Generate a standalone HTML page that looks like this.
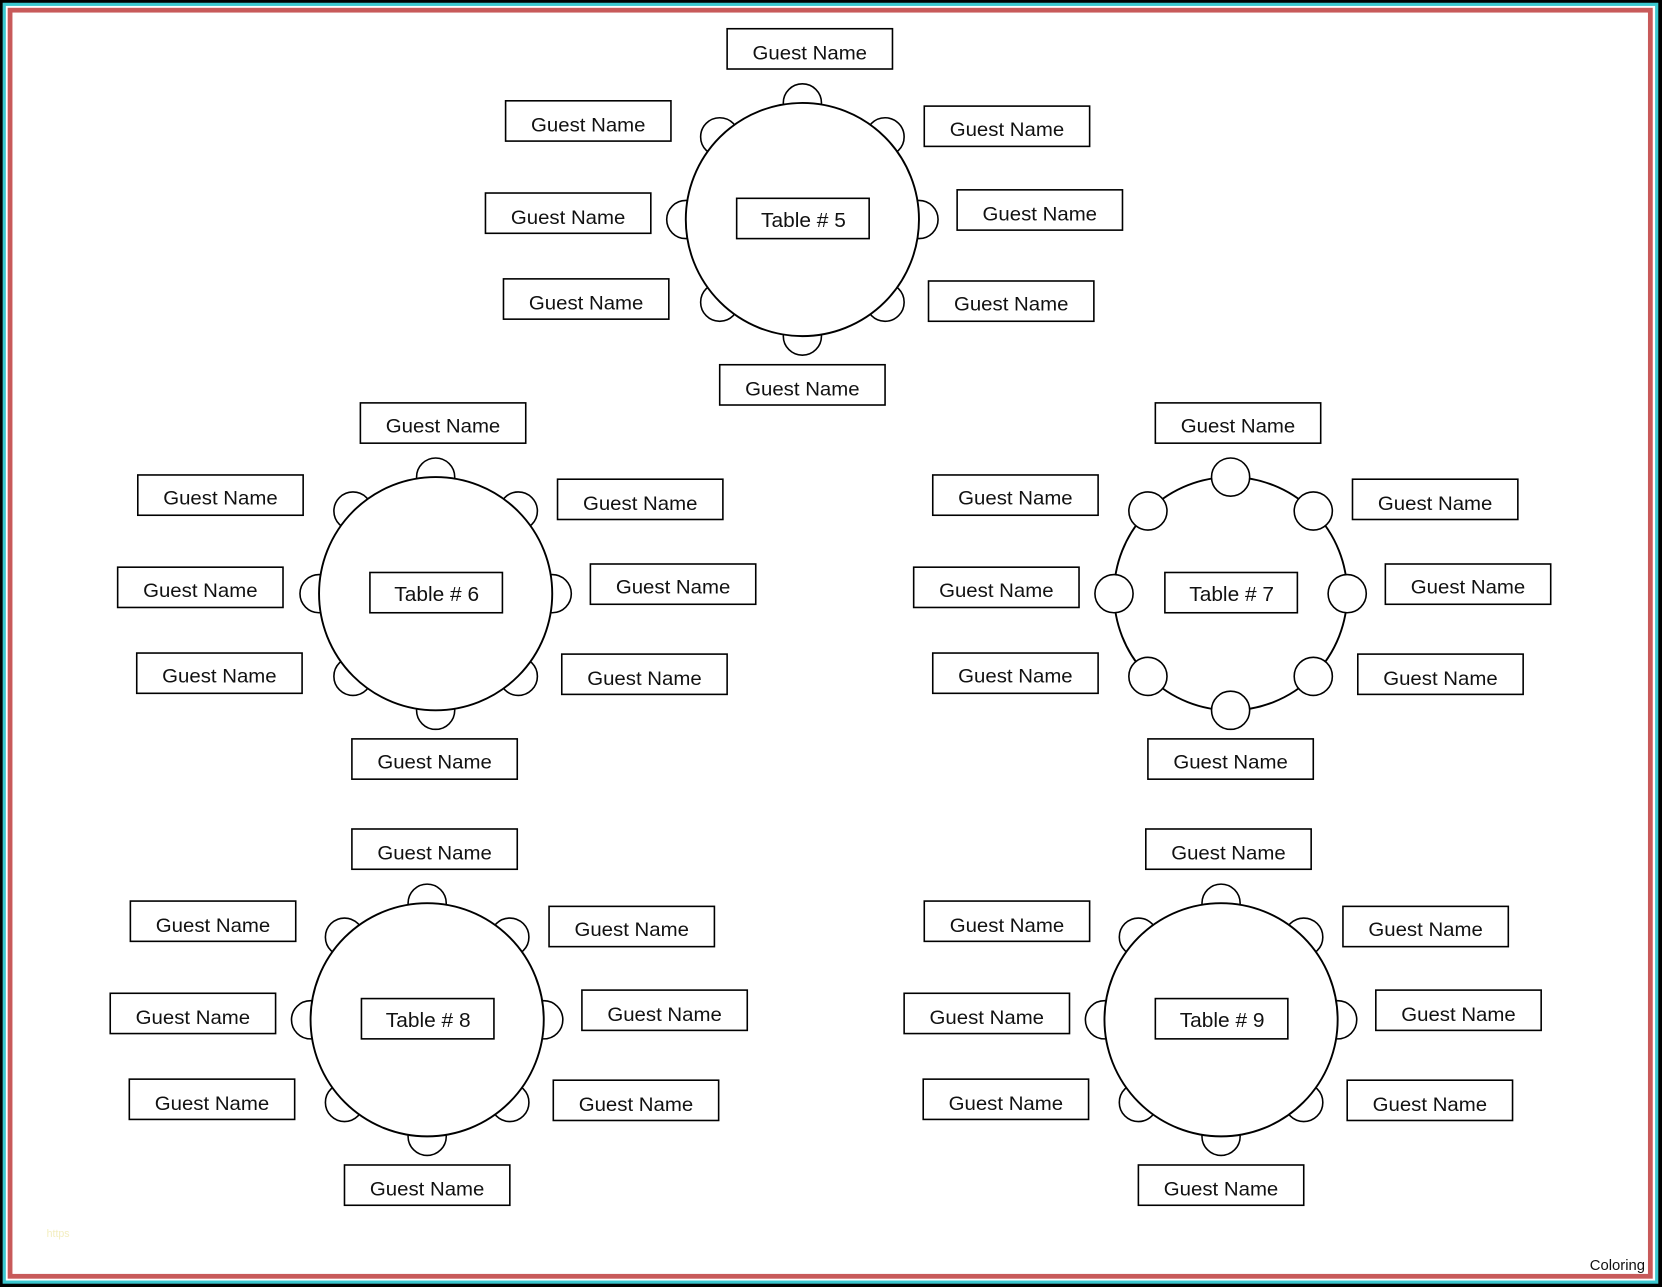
<!DOCTYPE html>
<html><head><meta charset="utf-8"><style>
html,body{margin:0;padding:0;background:#000;}
svg{display:block;}
text{font-family:"Liberation Sans",sans-serif;fill:#111;}
</style></head><body>
<svg width="1662" height="1287" viewBox="0 0 1568 1214" xmlns="http://www.w3.org/2000/svg">
<defs>
<g id="chairs" fill="#fff" stroke="#000" stroke-width="1.5">
<circle cx="0" cy="-110" r="18"/><circle cx="78" cy="-78" r="18"/><circle cx="110" cy="0" r="18"/><circle cx="78" cy="78" r="18"/>
<circle cx="0" cy="110" r="18"/><circle cx="-78" cy="78" r="18"/><circle cx="-110" cy="0" r="18"/><circle cx="-78" cy="-78" r="18"/>
</g>
<g id="tbl"><use href="#chairs"/><circle cx="0" cy="0" r="110" fill="#fff" stroke="#000" stroke-width="1.8"/><rect x="-62" y="-20" width="125" height="38" fill="#fff" stroke="#000" stroke-width="1.5"/></g>
<g id="tbl7"><circle cx="0" cy="0" r="110" fill="#fff" stroke="#000" stroke-width="1.8"/><use href="#chairs"/><rect x="-62" y="-20" width="125" height="38" fill="#fff" stroke="#000" stroke-width="1.5"/></g>
<rect id="b" width="156" height="38" fill="#fff" stroke="#000" stroke-width="1.5"/>
</defs>
<rect x="0" y="0" width="1568" height="1214" fill="#000"/>
<rect x="2.5" y="2.5" width="1562" height="1208.5" fill="#3cc8d0"/>
<rect x="5.5" y="5.5" width="1556" height="1202.5" fill="#fff"/>
<rect x="9.5" y="9.5" width="1547.5" height="1194.5" fill="none" stroke="#c85a5a" stroke-width="4.5"/>

<!-- Table 5 -->
<use href="#tbl" x="757" y="207"/>
<text x="758" y="214" font-size="19" text-anchor="middle" textLength="80" lengthAdjust="spacingAndGlyphs">Table # 5</text>
<use href="#b" x="686" y="27"/><text x="764" y="56" font-size="18" text-anchor="middle" textLength="108" lengthAdjust="spacingAndGlyphs">Guest Name</text>
<use href="#b" x="477" y="95"/><text x="555" y="124" font-size="18" text-anchor="middle" textLength="108" lengthAdjust="spacingAndGlyphs">Guest Name</text>
<use href="#b" x="872" y="100"/><text x="950" y="128" font-size="18" text-anchor="middle" textLength="108" lengthAdjust="spacingAndGlyphs">Guest Name</text>
<use href="#b" x="458" y="182"/><text x="536" y="211" font-size="18" text-anchor="middle" textLength="108" lengthAdjust="spacingAndGlyphs">Guest Name</text>
<use href="#b" x="903" y="179"/><text x="981" y="208" font-size="18" text-anchor="middle" textLength="108" lengthAdjust="spacingAndGlyphs">Guest Name</text>
<use href="#b" x="475" y="263"/><text x="553" y="292" font-size="18" text-anchor="middle" textLength="108" lengthAdjust="spacingAndGlyphs">Guest Name</text>
<use href="#b" x="876" y="265"/><text x="954" y="293" font-size="18" text-anchor="middle" textLength="108" lengthAdjust="spacingAndGlyphs">Guest Name</text>
<use href="#b" x="679" y="344"/><text x="757" y="373" font-size="18" text-anchor="middle" textLength="108" lengthAdjust="spacingAndGlyphs">Guest Name</text>

<!-- Table 6 -->
<use href="#tbl" x="411" y="560"/>
<text x="412" y="567" font-size="19" text-anchor="middle" textLength="80" lengthAdjust="spacingAndGlyphs">Table # 6</text>
<use href="#b" x="340" y="380"/><text x="418" y="408" font-size="18" text-anchor="middle" textLength="108" lengthAdjust="spacingAndGlyphs">Guest Name</text>
<use href="#b" x="130" y="448"/><text x="208" y="476" font-size="18" text-anchor="middle" textLength="108" lengthAdjust="spacingAndGlyphs">Guest Name</text>
<use href="#b" x="526" y="452"/><text x="604" y="481" font-size="18" text-anchor="middle" textLength="108" lengthAdjust="spacingAndGlyphs">Guest Name</text>
<use href="#b" x="111" y="535"/><text x="189" y="563" font-size="18" text-anchor="middle" textLength="108" lengthAdjust="spacingAndGlyphs">Guest Name</text>
<use href="#b" x="557" y="532"/><text x="635" y="560" font-size="18" text-anchor="middle" textLength="108" lengthAdjust="spacingAndGlyphs">Guest Name</text>
<use href="#b" x="129" y="616"/><text x="207" y="644" font-size="18" text-anchor="middle" textLength="108" lengthAdjust="spacingAndGlyphs">Guest Name</text>
<use href="#b" x="530" y="617"/><text x="608" y="646" font-size="18" text-anchor="middle" textLength="108" lengthAdjust="spacingAndGlyphs">Guest Name</text>
<use href="#b" x="332" y="697"/><text x="410" y="725" font-size="18" text-anchor="middle" textLength="108" lengthAdjust="spacingAndGlyphs">Guest Name</text>

<!-- Table 7 -->
<use href="#tbl7" x="1161" y="560"/>
<text x="1162" y="567" font-size="19" text-anchor="middle" textLength="80" lengthAdjust="spacingAndGlyphs">Table # 7</text>
<use href="#b" x="1090" y="380"/><text x="1168" y="408" font-size="18" text-anchor="middle" textLength="108" lengthAdjust="spacingAndGlyphs">Guest Name</text>
<use href="#b" x="880" y="448"/><text x="958" y="476" font-size="18" text-anchor="middle" textLength="108" lengthAdjust="spacingAndGlyphs">Guest Name</text>
<use href="#b" x="1276" y="452"/><text x="1354" y="481" font-size="18" text-anchor="middle" textLength="108" lengthAdjust="spacingAndGlyphs">Guest Name</text>
<use href="#b" x="862" y="535"/><text x="940" y="563" font-size="18" text-anchor="middle" textLength="108" lengthAdjust="spacingAndGlyphs">Guest Name</text>
<use href="#b" x="1307" y="532"/><text x="1385" y="560" font-size="18" text-anchor="middle" textLength="108" lengthAdjust="spacingAndGlyphs">Guest Name</text>
<use href="#b" x="880" y="616"/><text x="958" y="644" font-size="18" text-anchor="middle" textLength="108" lengthAdjust="spacingAndGlyphs">Guest Name</text>
<use href="#b" x="1281" y="617"/><text x="1359" y="646" font-size="18" text-anchor="middle" textLength="108" lengthAdjust="spacingAndGlyphs">Guest Name</text>
<use href="#b" x="1083" y="697"/><text x="1161" y="725" font-size="18" text-anchor="middle" textLength="108" lengthAdjust="spacingAndGlyphs">Guest Name</text>

<!-- Table 8 -->
<use href="#tbl" x="403" y="962"/>
<text x="404" y="969" font-size="19" text-anchor="middle" textLength="80" lengthAdjust="spacingAndGlyphs">Table # 8</text>
<use href="#b" x="332" y="782"/><text x="410" y="811" font-size="18" text-anchor="middle" textLength="108" lengthAdjust="spacingAndGlyphs">Guest Name</text>
<use href="#b" x="123" y="850"/><text x="201" y="879" font-size="18" text-anchor="middle" textLength="108" lengthAdjust="spacingAndGlyphs">Guest Name</text>
<use href="#b" x="518" y="855"/><text x="596" y="883" font-size="18" text-anchor="middle" textLength="108" lengthAdjust="spacingAndGlyphs">Guest Name</text>
<use href="#b" x="104" y="937"/><text x="182" y="966" font-size="18" text-anchor="middle" textLength="108" lengthAdjust="spacingAndGlyphs">Guest Name</text>
<use href="#b" x="549" y="934"/><text x="627" y="963" font-size="18" text-anchor="middle" textLength="108" lengthAdjust="spacingAndGlyphs">Guest Name</text>
<use href="#b" x="122" y="1018"/><text x="200" y="1047" font-size="18" text-anchor="middle" textLength="108" lengthAdjust="spacingAndGlyphs">Guest Name</text>
<use href="#b" x="522" y="1019"/><text x="600" y="1048" font-size="18" text-anchor="middle" textLength="108" lengthAdjust="spacingAndGlyphs">Guest Name</text>
<use href="#b" x="325" y="1099"/><text x="403" y="1128" font-size="18" text-anchor="middle" textLength="108" lengthAdjust="spacingAndGlyphs">Guest Name</text>

<!-- Table 9 -->
<use href="#tbl" x="1152" y="962"/>
<text x="1153" y="969" font-size="19" text-anchor="middle" textLength="80" lengthAdjust="spacingAndGlyphs">Table # 9</text>
<use href="#b" x="1081" y="782"/><text x="1159" y="811" font-size="18" text-anchor="middle" textLength="108" lengthAdjust="spacingAndGlyphs">Guest Name</text>
<use href="#b" x="872" y="850"/><text x="950" y="879" font-size="18" text-anchor="middle" textLength="108" lengthAdjust="spacingAndGlyphs">Guest Name</text>
<use href="#b" x="1267" y="855"/><text x="1345" y="883" font-size="18" text-anchor="middle" textLength="108" lengthAdjust="spacingAndGlyphs">Guest Name</text>
<use href="#b" x="853" y="937"/><text x="931" y="966" font-size="18" text-anchor="middle" textLength="108" lengthAdjust="spacingAndGlyphs">Guest Name</text>
<use href="#b" x="1298" y="934"/><text x="1376" y="963" font-size="18" text-anchor="middle" textLength="108" lengthAdjust="spacingAndGlyphs">Guest Name</text>
<use href="#b" x="871" y="1018"/><text x="949" y="1047" font-size="18" text-anchor="middle" textLength="108" lengthAdjust="spacingAndGlyphs">Guest Name</text>
<use href="#b" x="1271" y="1019"/><text x="1349" y="1048" font-size="18" text-anchor="middle" textLength="108" lengthAdjust="spacingAndGlyphs">Guest Name</text>
<use href="#b" x="1074" y="1099"/><text x="1152" y="1128" font-size="18" text-anchor="middle" textLength="108" lengthAdjust="spacingAndGlyphs">Guest Name</text>

<text x="44" y="1167" font-size="10" style="fill:#f3eec0">https</text>
<text x="1552" y="1198" font-size="14" text-anchor="end">Coloring</text>
</svg>
</body></html>
